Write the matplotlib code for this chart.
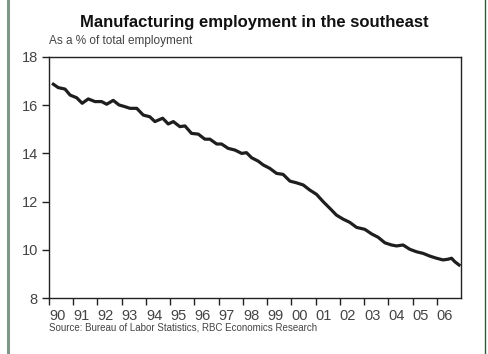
import matplotlib
matplotlib.use("Agg")
import matplotlib.pyplot as plt
from matplotlib.lines import Line2D

plt.rcParams['font.family'] = ['Liberation Sans', 'DejaVu Sans']

# share of manufacturing in total employment, southeast
years = [1990.18, 1990.38, 1990.66, 1990.87, 1991.14, 1991.37, 1991.62, 1991.90,
         1992.17, 1992.38, 1992.65, 1992.89, 1993.13, 1993.34, 1993.62, 1993.89,
         1994.16, 1994.37, 1994.69, 1994.92, 1995.13, 1995.40, 1995.61, 1995.88,
         1996.16, 1996.43, 1996.64, 1996.92, 1997.12, 1997.39, 1997.67, 1997.95,
         1998.15, 1998.36, 1998.63, 1998.84, 1999.11, 1999.39, 1999.66, 1999.94,
         2000.21, 2000.49, 2000.76, 2001.04, 2001.31, 2001.59, 2001.86, 2002.14,
         2002.41, 2002.69, 2003.03, 2003.31, 2003.58, 2003.86, 2004.13, 2004.34,
         2004.61, 2004.89, 2005.16, 2005.44, 2005.71, 2005.99, 2006.26, 2006.47,
         2006.61, 2006.74, 2006.92]
share = [16.87, 16.73, 16.67, 16.42, 16.31, 16.08, 16.26, 16.15,
         16.15, 16.04, 16.20, 16.01, 15.94, 15.87, 15.87, 15.59,
         15.52, 15.32, 15.46, 15.22, 15.32, 15.11, 15.14, 14.83,
         14.80, 14.59, 14.59, 14.39, 14.39, 14.21, 14.14, 14.00,
         14.03, 13.82, 13.68, 13.52, 13.38, 13.17, 13.13, 12.85,
         12.78, 12.69, 12.48, 12.30, 12.00, 11.72, 11.44, 11.27,
         11.14, 10.93, 10.85, 10.66, 10.52, 10.29, 10.20, 10.16,
         10.20, 10.02, 9.92, 9.85, 9.74, 9.65, 9.58, 9.61,
         9.65, 9.51, 9.37]

year_ticks = list(range(1990, 2007))
year_labels = ['%02d' % (y % 100) for y in year_ticks]
y_ticks = [8, 10, 12, 14, 16, 18]

fig = plt.figure(figsize=(4.88, 3.54), dpi=100)
ax = fig.add_axes([49/488, 56/354, 412/488, 241/354])

ax.plot(years, share, color='#1e1e1e', lw=2.3, solid_joinstyle='round')

ax.set_xlim(1990, 2007)
ax.set_ylim(8, 18)
ax.set_yticks(y_ticks)
ax.set_xticks(year_ticks)
ax.set_xticklabels(year_labels, ha='left')
ax.tick_params(axis='both', direction='out', length=5, width=1, colors='#222',
               labelcolor='#444', labelsize=10.5)
ax.tick_params(axis='x', pad=3)
ax.tick_params(axis='y', pad=3)
for s in ax.spines.values():
    s.set_linewidth(1)
    s.set_color('#222')

fig.text(254/488, 1 - 22/354, 'Manufacturing employment in the southeast', ha='center',
         va='center', fontsize=12, fontweight='bold', color='#111')
fig.text(49/488, 1 - 41/354, 'As a % of total employment', ha='left', va='center',
         fontsize=8.5, color='#444')
fig.text(49/488, 1 - 328/354, 'Source: Bureau of Labor Statistics, RBC Economics Research',
         ha='left', va='center', fontsize=7, color='#444')

# outer frame lines
fig.add_artist(Line2D([8/488, 8/488], [0, 1], transform=fig.transFigure,
                      color='#7e9788', lw=2.2))
fig.add_artist(Line2D([485/488, 485/488], [0, 1], transform=fig.transFigure,
                      color='#2f5a3c', lw=1))

fig.savefig('out.png', dpi=100)
